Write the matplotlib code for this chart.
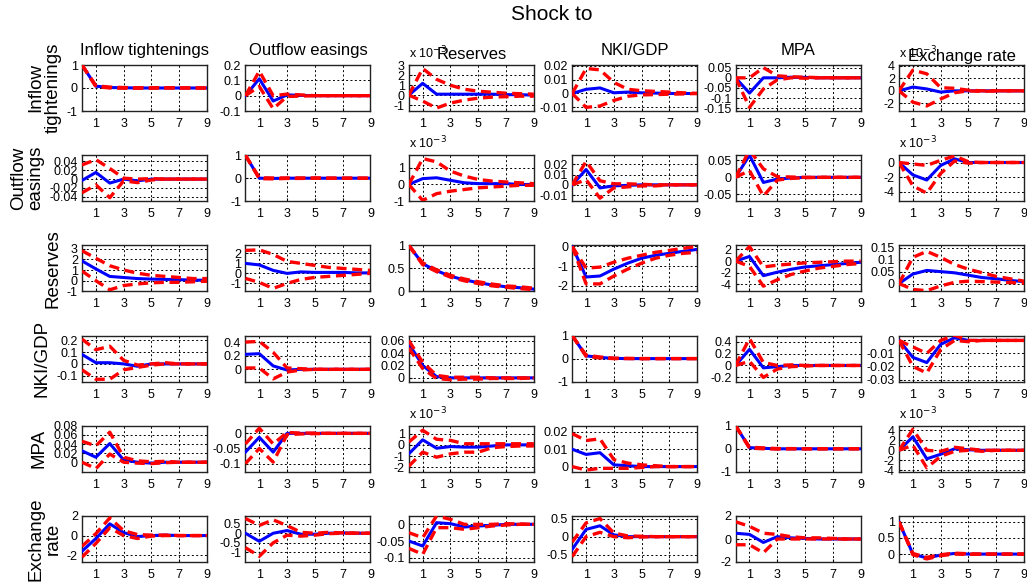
import numpy as np
import matplotlib.pyplot as plt

plt.rcParams['font.family'] = ['Liberation Sans', 'DejaVu Sans']

# shock (columns) and response (rows) names
shocks = ['Inflow tightenings', 'Outflow easings', 'Reserves', 'NKI/GDP', 'MPA', 'Exchange rate']
responses = ['Inflow\ntightenings', 'Outflow\neasings', 'Reserves', 'NKI/GDP', 'MPA', 'Exchange\nrate']
horizon = np.arange(10)
xticks = [1, 3, 5, 7, 9]

# %%
# Impulse responses: median (mid), lower and upper bands.
# Each list holds one response, six shocks (columns).
inflow_mid = [[1, 0.08, 0.02, 0.01, 0, 0, 0, 0, 0, 0],
              [0, 0.11, -0.035, 0.005, 0.002, 0, 0, 0, 0, 0],
              [0, 1.2, 0.1, 0.1, 0.1, 0.1, 0.1, 0.05, 0.05, 0],
              [0, 0.003, 0.004, 0.0005, 0.001, 0.0005, 0.0003, 0, 0, 0],
              [0, -0.075, 0, 0, 0.003, 0.002, 0, 0, 0, 0],
              [0, 0.6, 0.3, -0.2, 0, 0, 0, 0, 0, 0]]
inflow_lo = [[1, 0.06, 0.0, -0.01, -0.01, -0.01, 0, 0, 0, 0],
             [0, 0.06, -0.085, -0.005, -0.003, 0, 0, 0, 0, 0],
             [0, -0.6, -1.3, -0.8, -0.5, -0.3, -0.2, -0.15, -0.1, -0.1],
             [0, -0.01, -0.009, -0.005, -0.002, -0.001, -0.0008, -0.0005, -0.0003, 0],
             [0, -0.145, -0.055, -0.01, 0.0, -0.002, 0, 0, 0, 0],
             [0, -1.8, -2.4, -1.3, -0.3, 0, -0.1, 0, 0, 0]]
inflow_hi = [[1, 0.1, 0.04, 0.02, 0.01, 0.01, 0.01, 0.01, 0, 0],
             [0, 0.16, 0.0, 0.01, 0.005, 0, 0, 0, 0, 0],
             [0, 2.7, 1.6, 1.0, 0.6, 0.4, 0.3, 0.2, 0.15, 0.1],
             [0, 0.018, 0.017, 0.008, 0.003, 0.002, 0.0015, 0.001, 0.0005, 0],
             [0, 0.0, 0.05, 0.01, 0.005, 0.003, 0.001, 0, 0, 0],
             [0, 3.3, 2.7, 0.5, 0.4, 0.1, 0, 0, 0, 0]]
inflow_ylim = [[-1, 1], [-0.1, 0.2], [-1.6, 3.05], [-0.0126, 0.0205], [-0.163, 0.063], [-3.2, 4.1]]
inflow_yticks = [[-1, 0, 1], [-0.1, 0, 0.1, 0.2], [-1, 0, 1, 2, 3], [-0.01, 0, 0.01, 0.02],
                 [-0.15, -0.1, -0.05, 0, 0.05], [-2, 0, 2, 4]]

outflow_mid = [[-0.003, 0.015, -0.009, 0.0, -0.004, 0, 0, 0, 0, 0],
               [1, 0.0, -0.01, 0, 0, 0, 0, 0, 0, 0],
               [0, 0.35, 0.4, 0.25, 0.1, 0.05, 0.05, 0.05, 0, 0],
               [0, 0.015, -0.003, -0.001, -0.0005, 0, 0, 0, 0, 0],
               [0, 0.065, -0.015, -0.005, -0.002, 0, 0, 0, 0, 0],
               [0, -1.7, -2.4, -0.4, 0.5, 0, 0, 0, 0, 0]]
outflow_lo = [[-0.031, -0.013, -0.042, -0.004, -0.008, -0.002, 0, 0, 0, 0],
              [1, -0.02, -0.03, -0.01, -0.01, 0, 0, 0, 0, 0],
              [0, -0.95, -0.55, -0.4, -0.3, -0.2, -0.15, -0.1, -0.05, -0.05],
              [0, 0.005, -0.013, -0.003, -0.002, -0.001, -0.001, 0, 0, 0],
              [0, 0.02, -0.055, -0.008, -0.003, -0.001, 0, 0, 0, 0],
              [0, -3.2, -4.2, -1.5, 0.2, -0.1, 0, 0, 0, 0]]
outflow_hi = [[0.032, 0.044, 0.024, 0.002, 0.0, 0.001, 0, 0, 0, 0],
              [1, 0.02, 0.01, 0.01, 0.01, 0.01, 0, 0, 0, 0],
              [0, 1.55, 1.35, 0.8, 0.5, 0.3, 0.2, 0.15, 0.1, 0.05],
              [0, 0.023, 0.004, 0.001, 0.001, 0.0005, 0, 0, 0, 0],
              [0, 0.08, 0.025, 0.002, 0.001, 0, 0, 0, 0, 0],
              [0, -0.2, -0.4, 0.3, 0.9, 0.1, 0, 0, 0, 0]]
outflow_ylim = [[-0.05, 0.054], [-1, 1], [-1, 1.75], [-0.016, 0.029], [-0.07, 0.065], [-5.3, 1.0]]
outflow_yticks = [[-0.04, -0.02, 0, 0.02, 0.04], [-1, 0, 1], [-1, 0, 1], [-0.01, 0, 0.01, 0.02],
                  [-0.05, 0, 0.05], [-4, -2, 0]]

reserves_mid = [[1.85, 1.1, 0.4, 0.3, 0.2, 0.15, 0.12, 0.1, 0.05, 0.05],
                [1.0, 0.85, 0.3, 0.0, 0.15, 0.1, 0.1, 0.1, 0.05, 0.05],
                [1, 0.6, 0.45, 0.33, 0.25, 0.19, 0.14, 0.1, 0.08, 0.05],
                [0, -1.55, -1.5, -1.15, -0.85, -0.6, -0.45, -0.35, -0.25, -0.15],
                [0, 0.8, -2.5, -1.9, -1.4, -1.0, -0.8, -0.6, -0.4, -0.2],
                [0, 0.04, 0.055, 0.05, 0.045, 0.035, 0.025, 0.02, 0.013, 0.008]]
reserves_lo = [[0.9, 0.0, -0.85, -0.45, -0.3, -0.2, -0.15, -0.15, -0.1, -0.05],
               [-0.5, -0.9, -1.5, -1.0, -0.6, -0.4, -0.3, -0.2, -0.1, 0.0],
               [1, 0.58, 0.43, 0.31, 0.23, 0.17, 0.12, 0.09, 0.06, 0.04],
               [0, -1.9, -1.9, -1.5, -1.15, -0.85, -0.6, -0.45, -0.35, -0.3],
               [0, -0.9, -4.3, -3.2, -2.3, -1.7, -1.2, -0.9, -0.6, -0.4],
               [0, -0.025, -0.03, -0.01, 0.005, 0.01, 0.008, 0.006, 0.004, 0.002]]
reserves_hi = [[2.8, 2.1, 1.4, 1.0, 0.7, 0.5, 0.4, 0.3, 0.2, 0.2],
               [2.3, 2.35, 1.9, 1.2, 1.0, 0.8, 0.6, 0.5, 0.4, 0.3],
               [1, 0.62, 0.47, 0.35, 0.27, 0.21, 0.16, 0.12, 0.1, 0.07],
               [0, -1.1, -1.05, -0.8, -0.6, -0.45, -0.3, -0.2, -0.1, 0.0],
               [0, 2.5, -1.0, -0.7, -0.5, -0.3, -0.2, -0.1, 0, 0],
               [0, 0.11, 0.135, 0.11, 0.08, 0.06, 0.045, 0.03, 0.02, 0.01]]
reserves_ylim = [[-1, 3.3], [-1.8, 2.8], [0, 1], [-2.28, 0.05], [-5.2, 2.7], [-0.033, 0.16]]
reserves_yticks = [[-1, 0, 1, 2, 3], [-1, 0, 1, 2], [0, 0.5, 1], [-2, -1, 0], [-4, -2, 0, 2],
                   [0, 0.05, 0.1, 0.15]]

nki_mid = [[0.08, 0.01, 0.01, 0.0, -0.02, 0.0, 0.0, 0, 0, 0],
           [0.22, 0.23, 0.05, -0.01, 0, 0, 0, 0, 0, 0],
           [0.055, 0.02, 0.002, 0.0, 0, 0, 0, 0, 0, 0],
           [1, 0.12, 0.05, 0.01, 0, 0, 0, 0, 0, 0],
           [0, 0.27, -0.04, -0.02, 0, 0, 0, 0, 0, 0],
           [0, -0.013, -0.017, -0.003, 0.002, 0, 0, 0, 0, 0]]
nki_lo = [[-0.05, -0.13, -0.13, -0.05, -0.03, -0.01, 0, 0, 0, 0],
          [0.02, 0.02, -0.14, -0.04, -0.01, 0, 0, 0, 0, 0],
          [0.048, 0.015, -0.001, -0.003, -0.002, -0.002, -0.001, -0.001, -0.001, 0],
          [1, 0.1, 0.03, 0.0, 0, 0, 0, 0, 0, 0],
          [0, 0.07, -0.2, -0.06, -0.02, -0.01, 0, 0, 0, 0],
          [0, -0.02, -0.025, -0.007, 0.0, -0.001, 0, 0, 0, 0]]
nki_hi = [[0.21, 0.12, 0.15, 0.03, -0.01, 0, 0.01, 0, 0, 0],
          [0.4, 0.41, 0.25, 0.02, 0.01, 0, 0, 0, 0, 0],
          [0.06, 0.025, 0.004, 0.001, 0.001, 0.001, 0, 0, 0, 0],
          [1, 0.15, 0.07, 0.02, 0.01, 0, 0, 0, 0, 0],
          [0, 0.45, 0.05, 0.0, 0.01, 0, 0, 0, 0, 0],
          [0, -0.005, -0.01, 0.0, 0.004, 0.0, 0, 0, 0, 0]]
nki_ylim = [[-0.15, 0.24], [-0.18, 0.495], [-0.006, 0.068], [-1, 1], [-0.27, 0.5], [-0.0316, 0.0037]]
nki_yticks = [[-0.1, 0, 0.1, 0.2], [0, 0.2, 0.4], [0, 0.02, 0.04, 0.06], [-1, 0, 1],
              [-0.2, 0, 0.2, 0.4], [-0.03, -0.02, -0.01, 0]]

mpa_mid = [[0.025, 0.011, 0.041, 0.005, 0.0, -0.002, 0, 0, 0, 0],
           [-0.062, -0.013, -0.062, 0.0, 0, 0, 0, 0, 0, 0],
           [-0.8, 0.45, -0.3, -0.15, -0.2, -0.2, -0.1, 0, 0, 0],
           [0.01, 0.007, 0.008, 0.001, 0.0005, 0, 0, 0, 0, 0],
           [1, 0.05, 0.02, 0, 0, 0, 0, 0, 0, 0],
           [0, 2.7, -1.7, -0.8, 0.3, 0.1, 0, 0, 0, 0]]
mpa_lo = [[0.0, -0.014, 0.018, 0.0, -0.002, -0.003, -0.001, 0, 0, 0],
          [-0.1, -0.05, -0.095, -0.004, -0.002, -0.001, 0, 0, 0, 0],
          [-1.9, -0.65, -1.1, -0.8, -0.65, -0.65, -0.25, -0.15, -0.1, -0.1],
          [0.0, -0.002, -0.001, -0.001, -0.001, -0.0005, 0, 0, 0, 0],
          [1, 0.03, 0.0, -0.01, 0, 0, 0, 0, 0, 0],
          [0, 1.0, -3.5, -1.2, -0.2, 0.0, -0.2, 0, 0, 0]]
mpa_hi = [[0.046, 0.036, 0.066, 0.011, 0.003, 0.001, 0.002, 0, 0, 0],
          [-0.035, 0.017, -0.035, 0.003, 0.001, 0.001, 0, 0, 0, 0],
          [0.25, 1.3, 0.5, 0.4, 0.1, 0.1, 0.1, 0.1, 0.1, 0.1],
          [0.019, 0.015, 0.016, 0.004, 0.002, 0.001, 0.0005, 0, 0, 0],
          [1, 0.07, 0.04, 0.01, 0.01, 0, 0, 0, 0, 0],
          [0, 4.2, 0.0, -0.2, 0.6, 0.3, 0, 0, 0, 0]]
mpa_ylim = [[-0.021, 0.08], [-0.127, 0.025], [-2.4, 1.7], [-0.003, 0.0235], [-1, 1], [-4.3, 4.9]]
mpa_yticks = [[0, 0.02, 0.04, 0.06, 0.08], [-0.1, -0.05, 0], [-2, -1, 0, 1], [0, 0.01, 0.02],
              [-1, 0, 1], [-4, -2, 0, 2, 4]]

fx_mid = [[-1.6, -0.3, 1.2, 0.3, -0.1, 0.0, 0.05, 0, 0, 0],
          [0.0, -0.42, 0.0, 0.14, -0.05, -0.05, 0.0, 0.02, 0, 0],
          [-0.05, -0.065, 0.005, 0.002, -0.008, -0.005, -0.003, 0, 0, 0],
          [-0.35, 0.2, 0.3, 0.05, 0.0, 0, 0, 0, 0, 0],
          [0.5, 0.4, -0.3, 0.2, 0.1, 0.05, 0, 0, 0, 0],
          [1, 0.0, -0.12, -0.03, 0.02, 0, 0, 0, 0, 0]]
fx_lo = [[-2.2, -0.8, 0.8, 0.0, -0.3, -0.05, 0, 0, 0, 0],
         [-0.75, -1.2, -0.5, -0.1, -0.15, -0.1, -0.02, 0, 0, 0],
         [-0.072, -0.09, -0.01, -0.01, -0.015, -0.01, -0.005, -0.002, 0, 0],
         [-0.55, 0.0, 0.12, 0.0, -0.03, -0.01, 0, 0, 0, 0],
         [-0.5, -0.5, -1.2, 0.0, 0.0, 0.0, 0, 0, 0, 0],
         [1, -0.02, -0.15, -0.05, 0.0, -0.01, 0, 0, 0, 0]]
fx_hi = [[-1.1, 0.2, 1.8, 0.5, 0.1, 0.05, 0.05, 0, 0, 0],
         [0.77, 0.41, 0.7, 0.4, 0.05, 0.0, 0.05, 0.02, 0.01, 0],
         [-0.025, -0.04, 0.025, 0.015, 0.0, 0.0, 0.0, 0.002, 0.001, 0],
         [-0.15, 0.38, 0.5, 0.1, 0.02, 0.01, 0, 0, 0, 0],
         [1.5, 1.1, 0.5, 0.4, 0.2, 0.1, 0.1, 0.05, 0, 0],
         [1, 0.02, -0.1, -0.02, 0.03, 0.01, 0, 0, 0, 0]]
fx_ylim = [[-2.7, 2], [-1.5, 0.9], [-0.113, 0.025], [-0.7, 0.57], [-2, 2], [-0.245, 1.18]]
fx_yticks = [[-2, 0, 2], [-1, -0.5, 0, 0.5], [-0.1, -0.05, 0], [-0.5, 0, 0.5], [-2, 0, 2],
             [0, 0.5, 1]]

# panels whose values are shown in units of 10^-3 (row, col)
scaled_panels = [(0, 2), (0, 5), (1, 2), (1, 5), (4, 2), (4, 5)]

mid = [inflow_mid, outflow_mid, reserves_mid, nki_mid, mpa_mid, fx_mid]
lo = [inflow_lo, outflow_lo, reserves_lo, nki_lo, mpa_lo, fx_lo]
hi = [inflow_hi, outflow_hi, reserves_hi, nki_hi, mpa_hi, fx_hi]
ylims = [inflow_ylim, outflow_ylim, reserves_ylim, nki_ylim, mpa_ylim, fx_ylim]
yticks = [inflow_yticks, outflow_yticks, reserves_yticks, nki_yticks, mpa_yticks, fx_yticks]

# title pad per column (the 10^-3 columns sit a little lower)
title_pad = [7, 7, 4, 7, 7, 3]

# %%
W, H = 1027, 584
fig = plt.figure(figsize=(W / 100, H / 100), dpi=100)

for i in range(6):
    for j in range(6):
        left = 82 + 163.4 * j
        top = 65 + 90.2 * i
        ax = fig.add_axes([left / W, 1 - (top + 46) / H, 125 / W, 46 / H])
        ax.plot(horizon, mid[i][j], color='blue', lw=2.2, zorder=3)
        ax.plot(horizon, lo[i][j], color='red', lw=2.4, ls=(0, (3, 1.7)), zorder=4)
        ax.plot(horizon, hi[i][j], color='red', lw=2.4, ls=(0, (3, 1.7)), zorder=4)
        ax.set_xlim(0, 9)
        ax.set_ylim(ylims[i][j])
        ax.set_xticks(xticks)
        ax.set_yticks(yticks[i][j])
        ax.set_yticklabels(['%g' % t for t in yticks[i][j]])
        ax.grid(True, color='black', ls=(0, (2, 2.5)), lw=0.7)
        ax.tick_params(direction='in', length=2, labelsize=9, pad=3)
        ax.tick_params(axis='x', pad=5)
        for s in ax.spines.values():
            s.set_linewidth(1.0)
            s.set_color('#222222')
        if (i, j) in scaled_panels:
            ax.text(0, 1.08, r'x 10$^{-3}$', transform=ax.transAxes,
                    ha='left', va='bottom', fontsize=9)
        if i == 0:
            ax.set_title(shocks[j], fontsize=12, pad=title_pad[j])
        if j == 0:
            ax.set_ylabel(responses[i], fontsize=13.5, labelpad=4, linespacing=1.0)

fig.text(552 / W, 1 - 15 / H, 'Shock to', ha='center', va='center', fontsize=15)

fig.savefig('out.png', dpi=100)
